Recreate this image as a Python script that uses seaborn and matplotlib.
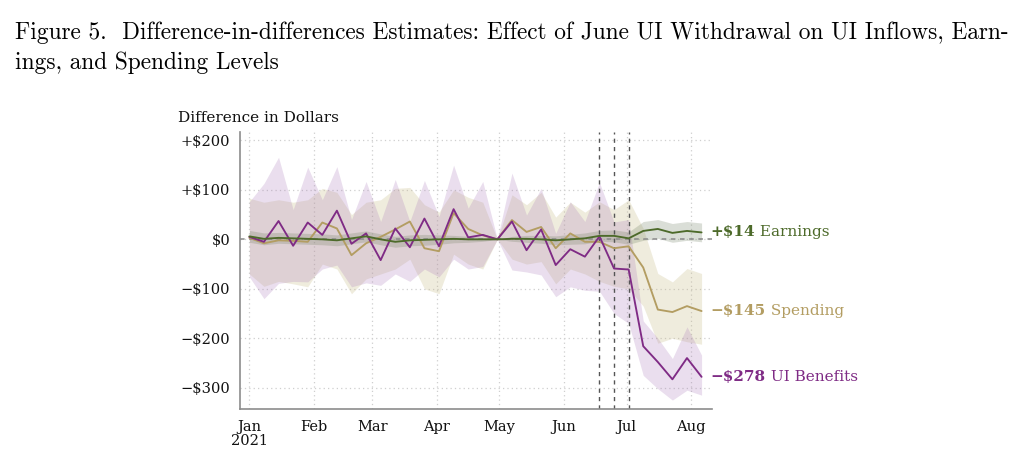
import matplotlib
matplotlib.use("Agg")
import matplotlib.pyplot as plt
import seaborn as sns
import pandas as pd

# weekly estimates, Jan 1 2021 onward (32 weeks)
ui = [5, -5, 37, -13, 34, 9, 58, -9, 12, -42, 22, -16, 42, -14, 61, 4,
      9, 0, 36, -22, 20, -52, -20, -35, 6, -59, -61, -216, -248, -283, -240, -278]
ui_hi = [76, 113, 166, 60, 146, 80, 147, 40, 117, 36, 121, 36, 119, 46, 150, 63,
         117, 0, 134, 49, 103, 12, 76, 36, 115, 35, 40, -165, -200, -241, -177, -234]
ui_lo = [-76, -120, -89, -85, -86, -60, -52, -96, -88, -93, -70, -85, -60, -76, -40, -60,
         -55, 0, -62, -66, -72, -116, -96, -103, -105, -150, -170, -275, -302, -325, -305, -315]

spend = [3, -8, -2, -3, -5, 34, 22, -32, -8, 5, 20, 36, -18, -24, 53, 21,
         8, 0, 39, 15, 25, -18, 12, -5, -5, -18, -14, -57, -142, -147, -135, -145]
spend_hi = [83, 75, 80, 75, 80, 103, 95, 50, 75, 80, 103, 105, 70, 55, 100, 85,
            75, 0, 90, 70, 95, 45, 75, 55, 76, 60, 80, 22, -69, -86, -59, -69]
spend_lo = [-70, -95, -85, -90, -96, -50, -60, -110, -80, -70, -60, -40, -100, -110, -30, -50,
            -60, 0, -40, -50, -45, -90, -60, -70, -85, -95, -100, -135, -210, -200, -207, -212]

earn = [6, 1, 3, 2, 1, 0, -2, 2, 6, 0, -5, -2, -1, 0, 1, 0,
        0, 0, 1, 1, 0, -2, 0, 2, 7, 7, 2, 17, 21, 13, 17, 14]
earn_hi = [18, 13, 14, 13, 12, 11, 9, 13, 17, 11, 6, 9, 10, 9, 8, 6,
           4, 0, 6, 8, 8, 7, 10, 13, 18, 19, 15, 36, 40, 32, 36, 33]
earn_lo = [-6, -11, -8, -9, -10, -11, -13, -9, -5, -11, -16, -13, -12, -10, -7, -6,
           -4, 0, -4, -6, -8, -11, -10, -9, -4, -5, -10, -2, 2, -6, -2, -5]

weeks = pd.date_range("2021-01-01", periods=32, freq="7D")
event_weeks = [24, 25, 26]

month_ticks = pd.date_range("2021-01-01", "2021-08-01", freq="MS")
month_labels = ["Jan\n2021", "Feb", "Mar", "Apr", "May", "Jun", "Jul", "Aug"]
y_ticks = [200, 100, 0, -100, -200, -300]
y_labels = ["+$200", "+$100", "$0", "\u2212$100", "\u2212$200", "\u2212$300"]

colors = {"UI Benefits": "#7f2b85", "Spending": "#b39d62", "Earnings": "#4d6a2a"}
labels = {"Earnings": ("+$14", " Earnings"),
          "Spending": ("\u2212$145", " Spending"),
          "UI Benefits": ("\u2212$278", " UI Benefits")}


def make_df():
    frames = []
    for name, vals in [("Spending", spend), ("UI Benefits", ui), ("Earnings", earn)]:
        frames.append(pd.DataFrame({"date": weeks, "value": vals, "series": name}))
    return pd.concat(frames, ignore_index=True)


def plotting(df):
    sns.set_style("white")
    plt.rcParams["font.family"] = ["DejaVu Serif"]
    fig = plt.figure(figsize=(10.24, 4.65), dpi=100)
    ax = fig.add_axes([240 / 1024, 1 - 409 / 465, 472 / 1024, 277 / 465])

    # confidence bands
    ax.fill_between(weeks, spend_lo, spend_hi, color="#c8bc88", alpha=0.28, lw=0)
    ax.fill_between(weeks, ui_lo, ui_hi, color="#a878b8", alpha=0.24, lw=0)
    ax.fill_between(weeks, earn_lo, earn_hi, color="#6f7f60", alpha=0.25, lw=0)

    ax.axhline(0, color="#8a8a8a", ls=(0, (3, 3)), lw=1.1, zorder=1)
    for k in event_weeks:
        ax.axvline(weeks[k], color="#555555", ls=(0, (3, 3)), lw=1.0, zorder=1)

    sns.lineplot(data=df, x="date", y="value", hue="series", palette=colors,
                 legend=False, linewidth=1.35, ax=ax)

    ax.set_xlim(pd.Timestamp("2020-12-27 12:00"), pd.Timestamp("2021-08-11"))
    ax.set_ylim(-343, 217)
    ax.set_xticks(month_ticks, labels=month_labels)
    ax.set_yticks(y_ticks, labels=y_labels)
    ax.grid(True, color="#cfcfcf", ls=(0, (1, 2.5)), lw=0.9)
    ax.set_xlabel("")
    ax.set_ylabel("")
    for side in ["top", "right"]:
        ax.spines[side].set_visible(False)
    for side in ["left", "bottom"]:
        ax.spines[side].set_color("#8c8c8c")
        ax.spines[side].set_linewidth(1.2)
    ax.tick_params(axis="both", length=4, color="#8c8c8c", labelsize=10.5,
                   labelcolor="#111111", pad=3)
    ax.tick_params(axis="x", pad=4)
    for lab in ax.get_xticklabels():
        lab.set_linespacing(0.95)

    # end labels
    for name, vals in [("Earnings", earn), ("Spending", spend), ("UI Benefits", ui)]:
        bold, rest = labels[name]
        t = ax.annotate(bold, xy=(weeks[-1], vals[-1]), xytext=(9, 0),
                        textcoords="offset pixels", va="center", ha="left",
                        color=colors[name], fontsize=11, fontweight="bold",
                        annotation_clip=False)
        ax.annotate(rest, xy=(1, 0), xycoords=t, va="bottom", ha="left",
                    color=colors[name], fontsize=11)

    fig.text(178 / 1024, 1 - 118 / 465, "Difference in Dollars", fontsize=11,
             va="center", ha="left", color="#111111")

    fig.text(15 / 1024, 1 - 21 / 465,
             "Figure 5.  Difference-in-differences Estimates: Effect of June UI Withdrawal on UI Inflows, Earn-\n"
             "ings, and Spending Levels",
             family=["cmr10", "DejaVu Serif"], fontsize=16.8, va="top", ha="left",
             linespacing=1.45, color="black")

    fig.savefig("out.png", dpi=100)


def main():
    df = make_df()
    plotting(df)


if __name__ == "__main__":
    main()
